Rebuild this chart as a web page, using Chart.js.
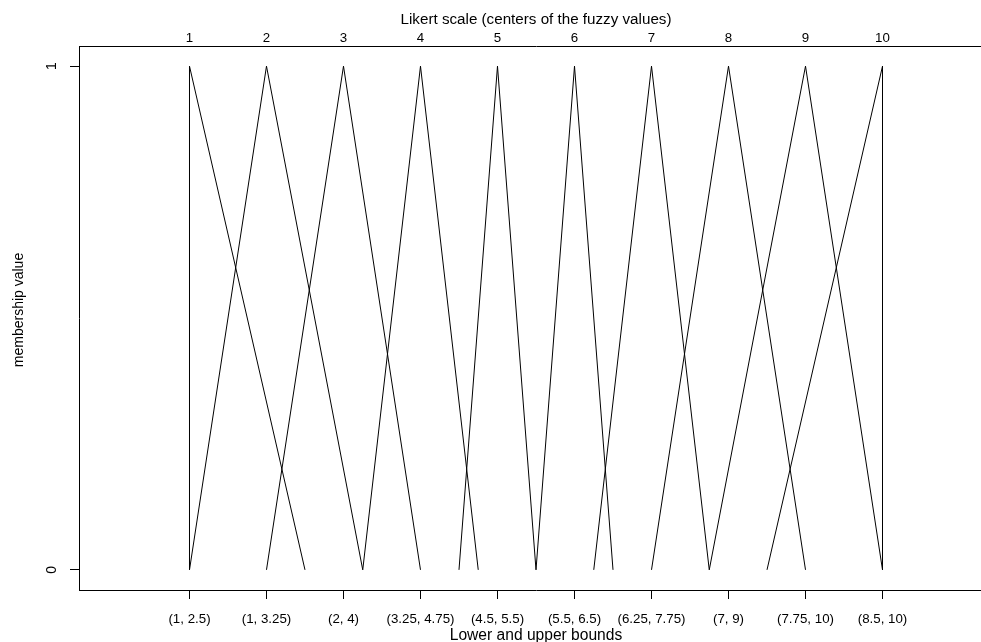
<!DOCTYPE html>
<html>
<head>
<meta charset="utf-8">
<script src="https://cdn.jsdelivr.net/npm/chart.js@4/dist/chart.umd.min.js"></script>
<style>
html,body{margin:0;padding:0;overflow:hidden;background:#fff;}
#wrap{width:1000px;height:642px;position:relative;}
</style>
</head>
<body>
<div id="wrap"><canvas id="c" width="1000" height="642"></canvas></div>
<script>
// Likert centers (top axis) and fuzzy lower/upper bounds (bottom axis)
const centers = [1, 2, 3, 4, 5, 6, 7, 8, 9, 10];
const lowerBounds = [1, 1, 2, 3.25, 4.5, 5.5, 6.25, 7, 7.75, 8.5];
const upperBounds = [2.5, 3.25, 4, 4.75, 5.5, 6.5, 7.75, 9, 10, 10];
const topTickLabels = ["1", "2", "3", "4", "5", "6", "7", "8", "9", "10"];
const bottomTickLabels = ["(1, 2.5)", "(1, 3.25)", "(2, 4)", "(3.25, 4.75)", "(4.5, 5.5)",
  "(5.5, 6.5)", "(6.25, 7.75)", "(7, 9)", "(7.75, 10)", "(8.5, 10)"];
const yTicks = [0, 1];

const FAM = "'Liberation Sans', Arial, Helvetica, sans-serif";
const TICKFONT = {family: FAM, size: 13.3};

const datasets = centers.map((c, i) => ({
  label: String(c),
  data: [{x: lowerBounds[i], y: 0}, {x: c, y: 1}, {x: upperBounds[i], y: 0}],
  borderColor: '#000',
  borderWidth: 1,
  pointRadius: 0,
  showLine: true,
  fill: false,
  tension: 0
}));

// shift the y-axis title slightly upward (as in the reference)
const yTitleShift = {
  id: 'yTitleShift',
  afterLayout(chart) {
    const s = chart.scales.y;
    if (s._shiftWrapped) return;
    const orig = s.drawTitle.bind(s);
    s.drawTitle = function () {
      const t = this.top, b = this.bottom;
      this.top = t - 8; this.bottom = b - 8;
      orig();
      this.top = t; this.bottom = b;
    };
    s._shiftWrapped = true;
  }
};

new Chart(document.getElementById('c'), {
  type: 'scatter',
  data: {datasets},
  plugins: [yTitleShift],
  options: {
    responsive: false,
    animation: false,
    events: [],
    layout: {padding: {left: 0, right: 7, top: 0, bottom: 0}},
    plugins: {legend: {display: false}, tooltip: {enabled: false}},
    scales: {
      x: {
        type: 'linear', position: 'bottom', min: -0.435, max: 11.435,
        afterBuildTicks: s => { s.ticks = centers.map(v => ({value: v})); },
        afterFit: s => { s.height = 52; },
        ticks: {
          color: '#000', font: TICKFONT, padding: 12, maxRotation: 0, minRotation: 0, autoSkip: false,
          callback: (v) => { const i = centers.indexOf(v); return i >= 0 ? bottomTickLabels[i] : ''; }
        },
        grid: {display: true, drawOnChartArea: false, drawTicks: true, tickLength: 9, color: '#000', lineWidth: 1},
        border: {display: true, color: '#000', width: 1},
        title: {display: true, text: 'Lower and upper bounds', color: '#000', font: {family: FAM, size: 15.6}, padding: {top: 0, bottom: -3}}
      },
      x2: {
        type: 'linear', position: 'top', min: -0.435, max: 11.435,
        afterBuildTicks: s => { s.ticks = centers.map(v => ({value: v})); },
        afterFit: s => { s.height = 46; },
        ticks: {
          color: '#000', font: TICKFONT, padding: 0, maxRotation: 0, minRotation: 0, autoSkip: false,
          callback: (v) => { const i = centers.indexOf(v); return i >= 0 ? topTickLabels[i] : ''; }
        },
        grid: {display: true, drawOnChartArea: false, drawTicks: false, color: '#000'},
        border: {display: true, color: '#000', width: 1},
        title: {display: true, text: 'Likert scale (centers of the fuzzy values)', color: '#000', font: {family: FAM, size: 15.2}, padding: {top: 11, bottom: 0}}
      },
      y: {
        type: 'linear', position: 'left', min: -0.04, max: 1.04,
        afterBuildTicks: s => { s.ticks = yTicks.map(v => ({value: v})); },
        afterFit: s => { s.width = 79; },
        ticks: {color: '#000', font: {family: FAM, size: 14}, padding: 14, minRotation: 90, maxRotation: 90, crossAlign: 'center'},
        grid: {display: true, drawOnChartArea: false, drawTicks: true, tickLength: 9, color: '#000', lineWidth: 1},
        border: {display: true, color: '#000', width: 1},
        title: {display: true, text: 'membership value', color: '#000', font: {family: FAM, size: 14}, padding: {top: 11, bottom: 0}}
      }
    }
  }
});
</script>
</body>
</html>
